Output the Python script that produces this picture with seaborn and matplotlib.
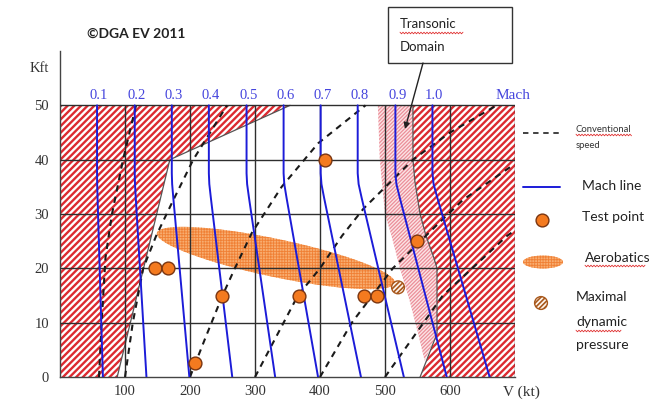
import numpy as np
import pandas as pd
import matplotlib
matplotlib.use("Agg")
import matplotlib.pyplot as plt
import seaborn as sns
from matplotlib.patches import Polygon, Rectangle, Ellipse
from matplotlib.lines import Line2D

# ------------------------------------------------------------------ data
v_ticks = [100, 200, 300, 400, 500, 600]
h_ticks = [0, 10, 20, 30, 40, 50]

mach_labels = ["0.1", "0.2", "0.3", "0.4", "0.5", "0.6", "0.7", "0.8", "0.9", "1.0"]
mach_v_sl = [66, 133, 199, 265, 331, 397, 463, 529, 595, 661]     # V (kt) at 0 kft
mach_v_top = [57, 115, 172, 229, 287, 344, 401, 458, 516, 573]    # V (kt) above ~36 kft

# conventional (calibrated) speed lines
cas50_v = [60, 64, 70, 80, 97, 117]
cas50_h = [0, 10, 22, 30, 40, 50]
cas100_v = [100, 112, 128, 148, 172, 205, 257]
cas100_h = [0, 10, 20, 26, 32, 40, 50]
cas200_v = [200, 223, 250, 269, 295, 341, 397, 470]
cas200_h = [0, 7, 15, 20, 26.5, 35, 43, 50]
cas300_v = [300, 366, 400, 434, 467, 543, 600, 672]
cas300_h = [0, 15, 20, 26, 31, 40, 45, 50]
cas400_v = [400, 449, 512, 580, 620, 697]
cas400_h = [0, 10, 20, 28, 32.6, 39]
cas500_v = [500, 589, 688, 700]
cas500_h = [0, 15, 26, 27]

test_v = [146, 166, 208, 249, 368, 408, 468, 487, 549]
test_h = [20, 20, 2.5, 15, 15, 40, 15, 15, 25]
qmax_v = [520]
qmax_h = [16.5]

# forbidden (hatched) domains
low_v = [0, 88, 169, 354, 0]
low_h = [0, 0, 40, 50, 50]
high_edge_v = [554, 580, 580, 575, 563, 554, 546, 543, 543]
high_edge_h = [0, 8, 20, 22, 26, 30, 36, 40, 50]
trans_left_v = [489, 492, 500, 510, 523, 538, 551, 561]
trans_left_h = [50, 40, 30, 26, 20, 14, 8, 3]

# aerobatics domain (ends of the elongated ellipse)
aero_end_v = [149, 515]
aero_end_h = [26.5, 17.3]

# ------------------------------------------------------------------ style
sns.set_style("white")
plt.rcParams["font.family"] = ["Liberation Serif", "DejaVu Serif"]
SANS = ["Lato", "DejaVu Sans"]
RED = "#dc2a30"
BLUE = "#1c1cd8"
ORANGE = "#f47a1f"
GRID = "#2e2e2e"

fig = plt.figure(figsize=(6.68, 4.03), dpi=100)
ax = fig.add_axes([60 / 668, 26 / 403, 455 / 668, 326 / 403])
ax.set_xlim(0, 700)
ax.set_ylim(0, 60)


def hatch_patch(poly, color, hatch, hlw, face="white", z=1):
    plt.rcParams["hatch.linewidth"] = hlw
    p = Polygon(poly, closed=True, facecolor=face, edgecolor=color,
                hatch=hatch, linewidth=0, zorder=z)
    if hasattr(p, "set_hatch_linewidth"):
        p.set_hatch_linewidth(hlw)
    ax.add_patch(p)
    return p


# low speed domain
hatch_patch(list(zip(low_v, low_h)), RED, "/////", 1.7)
ax.plot(low_v[1:4], low_h[1:4], color="#555555", lw=0.9, zorder=1.6)

# high speed domain
hv = high_edge_v + [700, 700]
hh = high_edge_h + [50, 0]
hatch_patch(list(zip(hv, hh)), RED, "/////", 1.7)
ax.plot(high_edge_v, high_edge_h, color="#555555", lw=0.9, zorder=1.6)

# transonic domain
tpoly = list(zip(trans_left_v, trans_left_h)) + list(zip(high_edge_v[1:], high_edge_h[1:]))
hatch_patch(tpoly, "#eb8f99", "/" * 9, 0.9, face="#fce4e6", z=1.2)

# aerobatics ellipse (drawn in display space, converted to data)
fig.canvas.draw()
p0 = ax.transData.transform((aero_end_v[0], aero_end_h[0]))
p1 = ax.transData.transform((aero_end_v[1], aero_end_h[1]))
c = (p0 + p1) / 2
a = np.hypot(*(p1 - p0)) / 2
b = 19.0
ang = np.arctan2(p1[1] - p0[1], p1[0] - p0[0])
t = np.linspace(0, 2 * np.pi, 200)
ex = c[0] + a * np.cos(t) * np.cos(ang) - b * np.sin(t) * np.sin(ang)
ey = c[1] + a * np.cos(t) * np.sin(ang) + b * np.sin(t) * np.cos(ang)
epts = ax.transData.inverted().transform(np.column_stack([ex, ey]))
plt.rcParams["hatch.linewidth"] = 0.6
ell = Polygon(epts, closed=True, facecolor="#f8ad70", edgecolor="#f08035",
              hatch="++++++", linewidth=0, zorder=2)
if hasattr(ell, "set_hatch_linewidth"):
    ell.set_hatch_linewidth(0.6)
ax.add_patch(ell)

# grid
ax.hlines([10, 20, 30, 40, 50], 0, 700, color=GRID, lw=1.0, zorder=3)
ax.vlines([100, 200, 300, 400, 500, 600, 700], 0, 50, color=GRID, lw=1.0, zorder=3)

# conventional speed lines
cas_sets = [(cas50_v, cas50_h), (cas100_v, cas100_h), (cas200_v, cas200_h),
            (cas300_v, cas300_h), (cas400_v, cas400_h), (cas500_v, cas500_h)]
rows = []
for i, (vv, hh_) in enumerate(cas_sets):
    for v, h in zip(vv, hh_):
        rows.append({"line": i, "V": v, "H": h})
cas_df = pd.DataFrame(rows)
for i, g in cas_df.groupby("line"):
    sns.lineplot(data=g, x="V", y="H", sort=False, estimator=None, ax=ax,
                 color="#1a1a1a", lw=1.5, dashes=False, zorder=4)
for l in ax.lines[-6:]:
    l.set_linestyle((0, (3.0, 2.6)))

# Mach lines
knee_alt = [0, 33, 35.5, 37.5, 50]
knee_frac = [1, 0.085, 0.02, 0, 0]
for lab, vs, vt in zip(mach_labels, mach_v_sl, mach_v_top):
    xs = [vt + f * (vs - vt) for f in knee_frac]
    sns.lineplot(x=xs, y=knee_alt, sort=False, estimator=None, ax=ax,
                 color=BLUE, lw=1.4, zorder=4.5)
    ax.text(vt + 3, 51.9, lab, ha="center", va="center", color="#4545dd",
            fontsize=10.5, zorder=6)
ax.text(697, 51.9, "Mach", ha="center", va="center", color="#4545dd",
        fontsize=11, zorder=6)

# test points
sns.scatterplot(x=test_v, y=test_h, ax=ax, s=85, color=ORANGE,
                edgecolor="#7a3510", linewidth=1.0, zorder=6, legend=False)
plt.rcParams["hatch.linewidth"] = 1.2
qc = ax.scatter(qmax_v, qmax_h, s=85, facecolor="#fff6ee", edgecolor="#a8581c",
                linewidth=1.0, hatch="///////", zorder=6)

# axes cosmetics
for s in ["top", "right"]:
    ax.spines[s].set_visible(False)
for s in ["left", "bottom"]:
    ax.spines[s].set_color("#444444")
    ax.spines[s].set_linewidth(1.0)
ax.set_xticks(v_ticks)
ax.set_xticklabels([str(v) for v in v_ticks])
ax.set_yticks(h_ticks)
ax.set_yticklabels([str(h) for h in h_ticks])
ax.tick_params(length=0, labelsize=10.5, colors="#333333")
ax.tick_params(axis="y", pad=8)
ax.tick_params(axis="x", pad=6)
ax.set_xlabel("")
ax.set_ylabel("")

# ------------------------------------------------------------------ overlay (pixel coords)
ov = fig.add_axes([0, 0, 1, 1])
ov.set_xlim(0, 668)
ov.set_ylim(403, 0)
ov.axis("off")

ov.text(39, 68, "Kft", ha="center", va="center", fontsize=10.5, color="#333333")
ov.text(521, 392, "V (kt)", ha="center", va="center", fontsize=11, color="#333333")
ov.text(87, 34, "\u00a9DGA EV 2011", ha="left", va="center", fontsize=10,
        fontweight="bold", family=SANS, color="#222222")

# transonic call-out
ov.add_patch(Rectangle((388, 7), 124, 56, facecolor="white", edgecolor="#333333", lw=1.0))
ov.text(400, 24, "Transonic", ha="left", va="center", fontsize=9.5, family=SANS, color="#222222")
ov.text(400, 47, "Domain", ha="left", va="center", fontsize=9.5, family=SANS, color="#222222")
ov.annotate("", xy=(405, 129), xytext=(423, 63),
            arrowprops=dict(arrowstyle="-|>", color="#222222", lw=1.0,
                            mutation_scale=9, shrinkA=0, shrinkB=0))


def squiggle(x0, x1, y):
    xs = np.arange(x0, x1 + 0.1, 1.5)
    ys = y + np.where(np.arange(len(xs)) % 2 == 0, -0.8, 0.8)
    ov.plot(xs, ys, color="#e03030", lw=0.6)


squiggle(400, 463, 33)

# legend
ov.add_line(Line2D([523, 559], [133, 133], color="#333333", lw=1.3,
                   linestyle=(0, (3.0, 2.6))))
ov.text(576, 129, "Conventional", ha="left", va="center", fontsize=6.8, family=SANS, color="#333333")
ov.text(576, 146, "speed", ha="left", va="center", fontsize=6.8, family=SANS, color="#333333")
squiggle(576, 632, 135)

ov.add_line(Line2D([523, 560], [187, 187], color=BLUE, lw=1.4))
ov.text(582, 186, "Mach line", ha="left", va="center", fontsize=10, family=SANS, color="#222222")

ov.scatter([542], [220], s=85, color=ORANGE, edgecolor="#7a3510", linewidth=1.0)
ov.text(582, 217, "Test point", ha="left", va="center", fontsize=10, family=SANS, color="#222222")

plt.rcParams["hatch.linewidth"] = 0.6
le = Ellipse((543, 262), 40, 13, facecolor="#f8ad70", edgecolor="#f08035",
             hatch="++++++", linewidth=0)
if hasattr(le, "set_hatch_linewidth"):
    le.set_hatch_linewidth(0.6)
ov.add_patch(le)
ov.text(585, 258, "Aerobatics", ha="left", va="center", fontsize=10, family=SANS, color="#222222")
squiggle(585, 645, 266)

plt.rcParams["hatch.linewidth"] = 1.2
ov.scatter([541], [303], s=85, facecolor="#fff6ee", edgecolor="#a8581c",
           linewidth=1.0, hatch="///////")
ov.text(576, 297, "Maximal", ha="left", va="center", fontsize=10, family=SANS, color="#222222")
ov.text(576, 322, "dynamic", ha="left", va="center", fontsize=10, family=SANS, color="#222222")
ov.text(576, 345, "pressure", ha="left", va="center", fontsize=10, family=SANS, color="#222222")
squiggle(576, 622, 331)

fig.savefig("out.png", dpi=100)
